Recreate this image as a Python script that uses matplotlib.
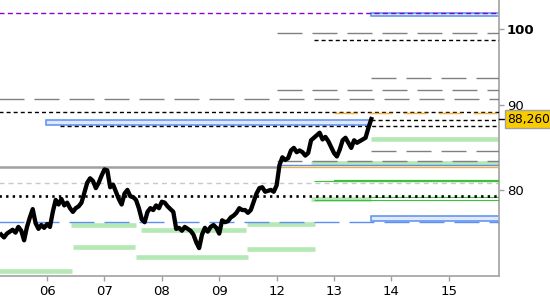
import matplotlib.pyplot as plt
from matplotlib.patches import Rectangle
from matplotlib.ticker import FixedLocator, NullLocator
from matplotlib.transforms import blended_transform_factory

# daily closes, one per session starting at session 4
closes = [
    75.2, 74.9, 75.3, 75.5, 75.7, 75.4, 76.0, 75.6, 74.6, 76.0,
    77.0, 77.9, 76.4, 75.8, 76.2, 75.9, 76.3, 76.0, 77.6, 78.9,
    78.4, 79.0, 78.3, 78.6, 78.0, 77.6, 78.0, 78.2, 78.6, 79.7,
    80.8, 81.3, 81.0, 80.2, 80.8, 81.6, 82.3, 82.2, 80.3, 80.6,
    79.8, 79.0, 78.4, 79.6, 80.0, 79.3, 79.2, 78.9, 78.0, 76.8,
    76.5, 77.6, 78.0, 77.8, 78.3, 78.0, 78.7, 78.6, 78.2, 77.9,
    77.6, 75.8, 75.9, 75.6, 76.0, 75.8, 75.6, 75.2, 74.4, 73.8,
    75.2, 75.9, 75.5, 76.0, 76.2, 75.9, 75.3, 76.7, 76.5, 76.6,
    77.0, 77.2, 77.5, 78.0, 77.8, 77.8, 77.5, 77.8, 78.7, 79.6,
    80.2, 80.3, 79.8, 79.9, 80.0, 79.8, 80.5, 82.8, 83.7, 83.4,
    83.6, 84.5, 84.8, 84.3, 84.5, 84.3, 83.9, 84.2, 85.7, 86.0,
    86.3, 86.6, 85.8, 86.1, 85.6, 84.9, 84.2, 83.8, 84.6, 85.7,
    86.0, 85.4, 84.8, 85.7, 85.4, 85.6, 85.8, 86.0, 87.2, 88.26,
]
first_session = 4
sessions = list(range(first_session, first_session + len(closes)))
last_price = 88.26
last_label = "88,260"

x_ticks = [20, 40, 60, 80, 100, 120, 140, 160]
x_labels = ["06", "07", "08", "09", "12", "13", "14", "15"]
y_ticks = [80, 90, 100]
y_labels = ["80", "90", "100"]

x_min, x_max = 3.6, 177.5
y_min, y_max = 71.0, 104.1

# levels drawn from a start session to the right edge
gray_levels = [99.44, 93.38, 91.89, 90.81, 84.41, 83.29]
gray_starts = [100, 133, 100, 0, 133, 100]

black_levels = [98.44, 89.09, 88.15, 87.42]
black_starts = [113, 0, 133, 24.5]

purple_level = 102.3
blue_dash_level = 76.52
dotted_level = 79.37
soft_gray_level = 80.75

pivot_level, pivot_end = 82.6, 100
orange_dash_level, orange_dash_start = 88.97, 120
orange_level, orange_start = 82.59, 100
blue_level, blue_start = 82.76, 100

green_thin_levels = [81.0, 79.17, 78.86]
green_thin_starts = [113, 133, 113]
green_thick_level, green_thick_start = 81.0, 120

# light green zones: level, start, end
zone_levels = [85.82, 83.0, 78.98, 76.17, 75.68, 76.35, 73.9, 73.73, 72.88, 71.45]
zone_starts = [133, 112, 112, 28.3, 52.7, 89.7, 29.0, 89.7, 51.0, 0]
zone_ends = [180, 180, 133, 51.0, 89.3, 113.4, 50.6, 113.4, 90.0, 28.7]

# blue boxes
box_lows = [101.77, 87.50, 76.63]
box_highs = [102.3, 88.11, 77.13]
box_starts = [133, 19.6, 133]
box_ends = [180, 133, 180]

fig = plt.figure(figsize=(5.5, 3.0), dpi=100)
ax = fig.add_axes([0, 0.08, 499 / 550, 0.92])
ax.set_yscale("log")

right = 180

for lo, hi, s, e in zip(box_lows, box_highs, box_starts, box_ends):
    ax.add_patch(Rectangle((s, lo), e - s, hi - lo, facecolor="#dfe9fb",
                           edgecolor="#5b8ff0", lw=1.1, zorder=2))

for lvl, s, e in zip(zone_levels, zone_starts, zone_ends):
    ax.hlines(lvl, s, e, colors="#b4e8b4", lw=3.3, zorder=1)

ax.hlines(purple_level, 0, right, colors="#8a00d4", lw=1.0,
          linestyles=(0, (3.6, 2.4)), zorder=3)
for lvl, s in zip(gray_levels, gray_starts):
    ax.hlines(lvl, s, right, colors="#808080", lw=1.0,
              linestyles=(0, (18, 7.2)), zorder=3)
for lvl, s in zip(black_levels, black_starts):
    ax.hlines(lvl, s, right, colors="black", lw=1.0,
              linestyles=(0, (2.9, 2.2)), zorder=3)
ax.hlines(orange_dash_level, orange_dash_start, right, colors="#f0b040", lw=1.0,
          linestyles=(0, (17, 8)), zorder=3)
ax.hlines(soft_gray_level, 0, right, colors="#c8c8c8", lw=1.0,
          linestyles=(0, (3.6, 2.9)), zorder=2)
ax.hlines(blue_dash_level, 0, right, colors="#5b8ff0", lw=1.0,
          linestyles=(0, (18, 7.2)), zorder=3)
ax.hlines(pivot_level, 0, pivot_end, colors="#a0a0a0", lw=1.8, zorder=3)
ax.hlines(orange_level, orange_start, right, colors="#f0b040", lw=1.0, zorder=3)
ax.hlines(blue_level, blue_start, right, colors="#5b8ff0", lw=1.0, zorder=3)
for lvl, s in zip(green_thin_levels, green_thin_starts):
    ax.hlines(lvl, s, right, colors="#3cc03c", lw=0.8, zorder=3)
ax.hlines(green_thick_level, green_thick_start, right, colors="#3cc03c", lw=1.6, zorder=3)
ax.hlines(dotted_level, 0, right, colors="black", lw=1.9,
          linestyles=(0, (0.9, 1.6)), zorder=3)

ax.plot(sessions, closes, color="black", lw=3.1, zorder=5)

ax.set_xlim(x_min, x_max)
ax.set_ylim(y_min, y_max)

ax.xaxis.set_major_locator(FixedLocator(x_ticks))
ax.set_xticklabels(x_labels)
ax.yaxis.set_major_locator(FixedLocator(y_ticks))
ax.yaxis.set_minor_locator(NullLocator())
ax.set_yticklabels(y_labels)
ax.yaxis.tick_right()
ax.get_yticklabels()[2].set_fontweight("bold")

ax.tick_params(axis="both", colors="#a0a0a0", labelcolor="black",
               labelsize=9.5, length=3.5, width=1)
ax.tick_params(axis="y", pad=2)
ax.tick_params(axis="x", pad=3)

for side in ["top", "left"]:
    ax.spines[side].set_visible(False)
for side in ["right", "bottom"]:
    ax.spines[side].set_color("#a8a8a8")
    ax.spines[side].set_linewidth(1.3)

trans = blended_transform_factory(ax.transAxes, ax.transData)
ax.plot([1.0, 1.012], [last_price, last_price], color="black", lw=1.0,
        transform=trans, clip_on=False, zorder=6)
ax.text(1.017, last_price, last_label, transform=trans, ha="left", va="center",
        fontsize=8.8, color="black", zorder=7, clip_on=False,
        bbox=dict(boxstyle="square,pad=0.2", facecolor="#f9cc00",
                  edgecolor="#a0a0a0", lw=1.0))

fig.savefig("out.png", dpi=100)
